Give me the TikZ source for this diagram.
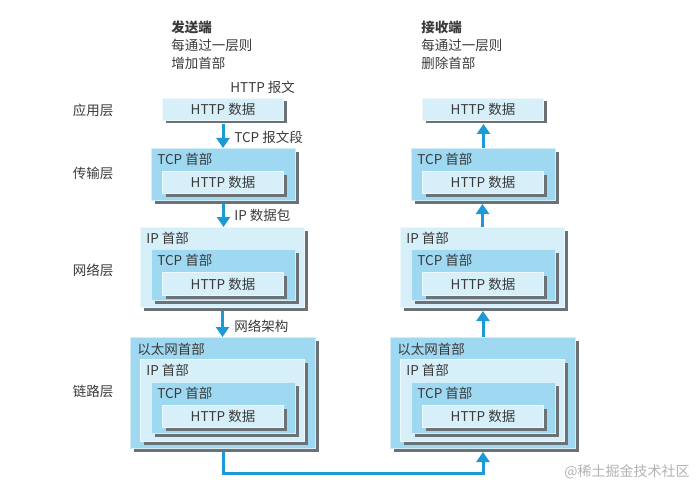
\documentclass[tikz,border=0pt]{standalone}
\usepackage{fontspec}
\setmainfont{Noto Sans CJK SC}
\usetikzlibrary{arrows.meta,positioning,shadows}
\definecolor{deepbox}{HTML}{9FD9F1}
\definecolor{palebox}{HTML}{D6EFF9}
\definecolor{flowblue}{HTML}{1C9AD6}
\definecolor{ink}{HTML}{3A3A3A}
\definecolor{boxshadow}{HTML}{6C7176}

\begin{document}
\begin{tikzpicture}[x=1pt,y=-1pt,line width=0.8pt,>={Triangle[width=13pt,length=10pt]},
  txt/.style={font=\fontsize{13.5}{15}\selectfont,text=ink,inner sep=0pt},
  ttl/.style={txt,anchor=west},
  frame/.style={draw=white!55!#1,fill=#1,line width=1pt,anchor=north west,txt,
    drop shadow={shadow xshift=3pt,shadow yshift=-3pt,fill=boxshadow,opacity=1}},
  deep/.style={frame=deepbox},
  pale/.style={frame=palebox},
  flow/.style={->,draw=flowblue,line width=3pt}]
  \useasboundingbox (0,0) rectangle (697,487);
  % titles
  \node[ttl,font=\fontsize{13.5}{15}\selectfont\bfseries] (sendT) at (171,27) {发送端};
  \node[ttl] (sendA) at (171,45) {每通过一层则};
  \node[ttl] (sendB) at (171,63) {增加首部};
  \node[ttl,font=\fontsize{13.5}{15}\selectfont\bfseries] (recvT) at (421,27) {接收端};
  \node[ttl] (recvA) at (421,45) {每通过一层则};
  \node[ttl] (recvB) at (421,63) {删除首部};
  % layer names
  \node[txt] (layApp) at (93,110) {应用层};
  \node[txt] (layTra) at (93,173) {传输层};
  \node[txt] (layNet) at (93,270) {网络层};
  \node[txt] (layLnk) at (93,391) {链路层};
  % sender side
  \node[pale,minimum width=121,minimum height=22] (appL) at (162,98) {HTTP 数据};
  \node[deep,minimum width=144,minimum height=52] (traTcpL) at (151,148) {};
  \node[ttl] (traTcpLh) at ([xshift=6pt,yshift=-11pt]traTcpL.north west) {TCP 首部};
  \node[pale,minimum width=121,minimum height=22] (traHttpL) at (162,171) {HTTP 数据};
  \node[pale,minimum width=164,minimum height=80] (netIpL) at (140,227) {};
  \node[ttl] (netIpLh) at ([xshift=6pt,yshift=-11pt]netIpL.north west) {IP 首部};
  \node[deep,minimum width=144,minimum height=51] (netTcpL) at (151,249) {};
  \node[ttl] (netTcpLh) at ([xshift=6pt,yshift=-11pt]netTcpL.north west) {TCP 首部};
  \node[pale,minimum width=121,minimum height=23] (netHttpL) at (162,272) {HTTP 数据};
  \node[deep,minimum width=185,minimum height=111] (lnkEthL) at (130,337) {};
  \node[ttl] (lnkEthLh) at ([xshift=7pt,yshift=-12pt]lnkEthL.north west) {以太网首部};
  \node[pale,minimum width=164,minimum height=82] (lnkIpL) at (140,359) {};
  \node[ttl] (lnkIpLh) at ([xshift=6pt,yshift=-11pt]lnkIpL.north west) {IP 首部};
  \node[deep,minimum width=144,minimum height=51] (lnkTcpL) at (151,382) {};
  \node[ttl] (lnkTcpLh) at ([xshift=6pt,yshift=-11pt]lnkTcpL.north west) {TCP 首部};
  \node[pale,minimum width=121,minimum height=22] (lnkHttpL) at (162,405) {HTTP 数据};
  % receiver side
  \node[pale,minimum width=121,minimum height=22] (appR) at (422,98) {HTTP 数据};
  \node[deep,minimum width=144,minimum height=52] (traTcpR) at (411,148) {};
  \node[ttl] (traTcpRh) at ([xshift=6pt,yshift=-11pt]traTcpR.north west) {TCP 首部};
  \node[pale,minimum width=121,minimum height=22] (traHttpR) at (422,171) {HTTP 数据};
  \node[pale,minimum width=164,minimum height=80] (netIpR) at (400,227) {};
  \node[ttl] (netIpRh) at ([xshift=6pt,yshift=-11pt]netIpR.north west) {IP 首部};
  \node[deep,minimum width=144,minimum height=51] (netTcpR) at (411,249) {};
  \node[ttl] (netTcpRh) at ([xshift=6pt,yshift=-11pt]netTcpR.north west) {TCP 首部};
  \node[pale,minimum width=121,minimum height=23] (netHttpR) at (422,272) {HTTP 数据};
  \node[deep,minimum width=185,minimum height=111] (lnkEthR) at (390,337) {};
  \node[ttl] (lnkEthRh) at ([xshift=7pt,yshift=-12pt]lnkEthR.north west) {以太网首部};
  \node[pale,minimum width=164,minimum height=82] (lnkIpR) at (400,359) {};
  \node[ttl] (lnkIpRh) at ([xshift=6pt,yshift=-11pt]lnkIpR.north west) {IP 首部};
  \node[deep,minimum width=144,minimum height=51] (lnkTcpR) at (411,382) {};
  \node[ttl] (lnkTcpRh) at ([xshift=6pt,yshift=-11pt]lnkTcpR.north west) {TCP 首部};
  \node[pale,minimum width=121,minimum height=22] (lnkHttpR) at (422,405) {HTTP 数据};
  % message names
  \node[ttl] (msgHttp) at (230,87) {HTTP 报文};
  \node[ttl] (msgTcp) at (234,137) {TCP 报文段};
  \node[ttl] (msgIp) at (234,215) {IP 数据包};
  \node[ttl] (msgEth) at (234,326) {网络架构};
  % down on the sender, up on the receiver
  \draw[flow,shorten <=3pt] (appL.south) -- (appL.south |- traTcpL.north);
  \draw[flow,shorten <=3pt] (traTcpL.south) -- (traTcpL.south |- netIpL.north);
  \draw[flow,shorten <=3pt] (netIpL.south) -- (netIpL.south |- lnkEthL.north);
  \draw[flow,shorten >=3pt] (lnkEthR.north) -- (lnkEthR.north |- netIpR.south);
  \draw[flow,shorten >=3pt] (netIpR.north) -- (netIpR.north |- traTcpR.south);
  \draw[flow,shorten >=3pt] (traTcpR.north) -- (traTcpR.north |- appR.south);
  \coordinate (bus) at (350,473);
  \draw[flow,shorten <=3pt,shorten >=3pt] (lnkEthL.south) |- (bus) -| (lnkEthR.south);
  \node[txt,text=black!30,anchor=east,font=\fontsize{14}{16}\selectfont] (mark) at (690,472) {@稀土掘金技术社区};
\end{tikzpicture}
\end{document}
